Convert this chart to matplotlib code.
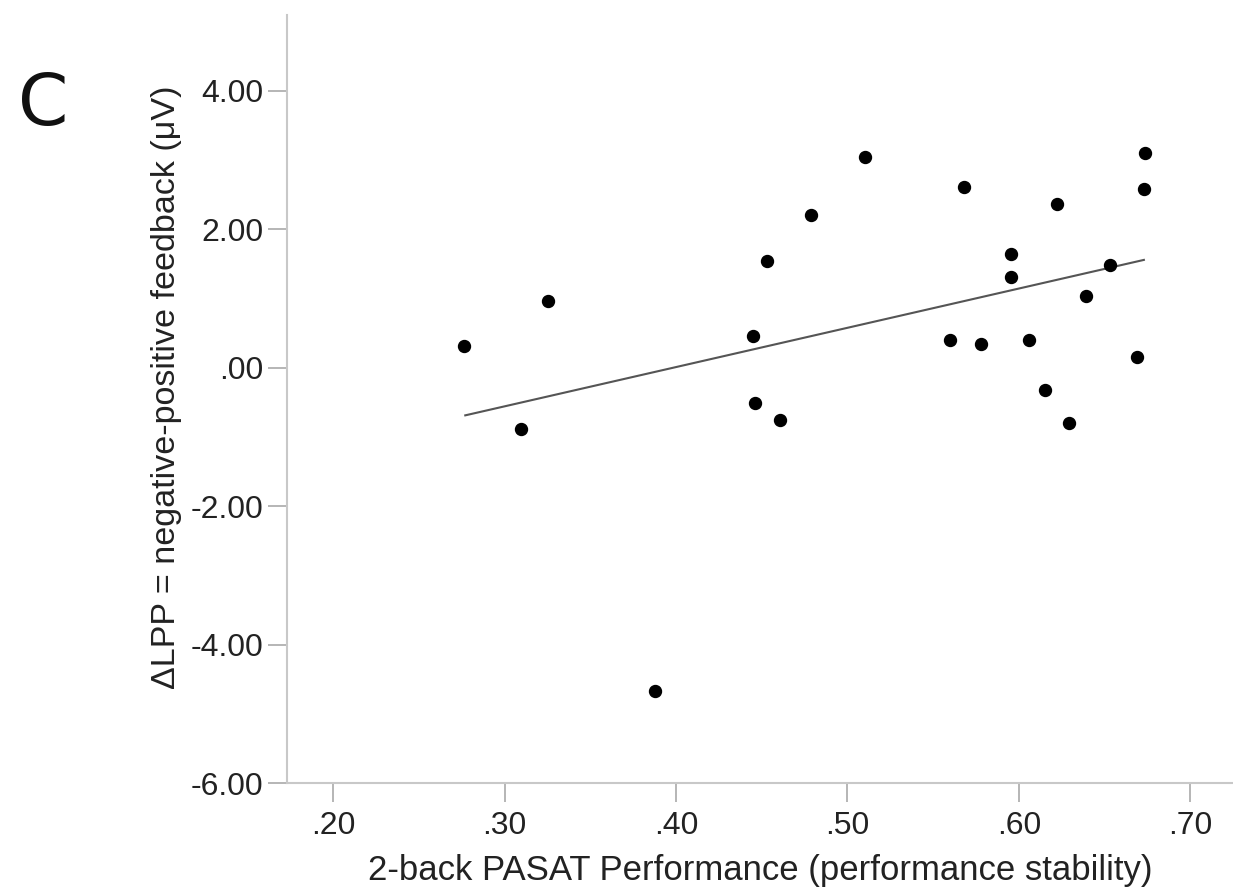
import matplotlib.pyplot as plt
from matplotlib.ticker import FuncFormatter

# values
pasat = [0.2764, 0.3097, 0.3254, 0.3879, 0.4447, 0.4460, 0.4608, 0.4528,
         0.4790, 0.5100, 0.5678, 0.6222, 0.6734, 0.6730, 0.5952, 0.5954,
         0.6530, 0.6391, 0.5600, 0.5777, 0.6062, 0.6690, 0.6152, 0.6292]
dlpp = [0.31, -0.89, 0.96, -4.67, 0.46, -0.505, -0.76, 1.54,
        2.20, 3.04, 2.61, 2.36, 3.10, 2.58, 1.64, 1.31,
        1.48, 1.04, 0.395, 0.342, 0.404, 0.154, -0.318, -0.804]

# fit line ends as drawn in the reference
fit_x = [0.277, 0.673]
fit_y = [-0.69, 1.555]

xticks = [0.20, 0.30, 0.40, 0.50, 0.60, 0.70]
yticks = [-6, -4, -2, 0, 2, 4]

plt.rcParams['font.family'] = ['Liberation Sans', 'DejaVu Sans']

fig = plt.figure(figsize=(12.33, 8.9), dpi=100)
ax = fig.add_axes([0.2328, 0.1202, 0.7672, 0.8628])

ax.plot(fit_x, fit_y, color='#555555', linewidth=1.5, zorder=2)
ax.plot(pasat, dlpp, 'o', color='black', markersize=8.6, zorder=3)

ax.set_xlim(0.173, 0.725)
ax.set_ylim(-6.0, 5.09)
ax.set_xticks(xticks)
ax.set_yticks(yticks)

def fmt2(v, pos):
    s = "%.2f" % v
    if s.startswith("0."):
        s = s[1:]
    elif s.startswith("-0."):
        s = "-" + s[2:]
    return s

ax.xaxis.set_major_formatter(FuncFormatter(fmt2))
ax.yaxis.set_major_formatter(FuncFormatter(fmt2))

for side in ['top', 'right']:
    ax.spines[side].set_visible(False)
for side in ['left', 'bottom']:
    ax.spines[side].set_color('#c8c8c8')
    ax.spines[side].set_linewidth(1.5)

ax.tick_params(axis='both', direction='out', length=14, width=1.3,
               color='#b0b0b0', labelsize=23, labelcolor='#222222')
ax.tick_params(axis='x', pad=6)
ax.tick_params(axis='y', pad=3)

ax.set_xlabel("2-back PASAT Performance (performance stability)",
              fontsize=25, color='#222222')
ax.set_ylabel("\u0394LPP = negative-positive feedback (\u03bcV)",
              fontsize=24.6, color='#222222')
ax.xaxis.set_label_coords(0.5, -0.092)
ax.yaxis.set_label_coords(-0.111, 0.515)

fig.text(0.035, 0.881, "C", fontsize=52, family='DejaVu Sans',
         ha='center', va='center', color='#111111')

fig.savefig("out.png", dpi=100)
